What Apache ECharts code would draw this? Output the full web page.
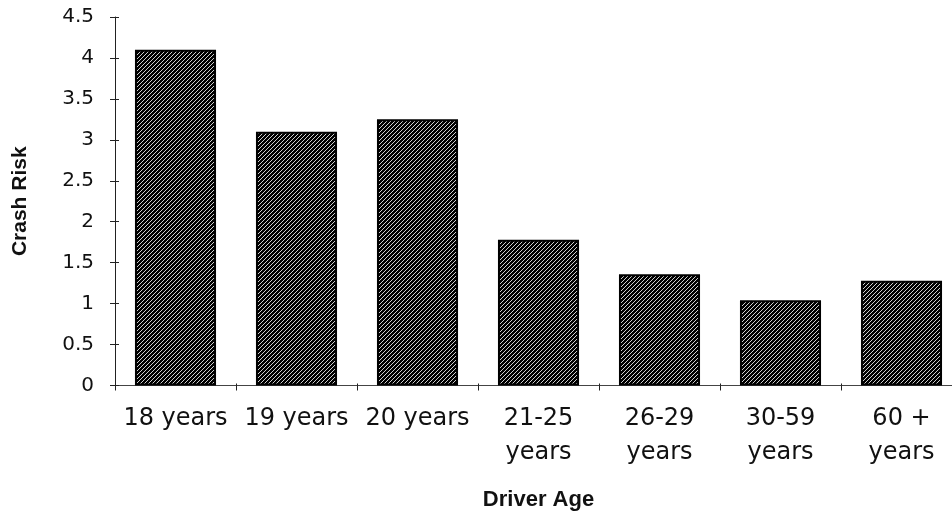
<!DOCTYPE html>
<html>
<head>
<meta charset="utf-8">
<script src="https://cdn.jsdelivr.net/npm/echarts@6/dist/echarts.min.js"></script>
<style>html,body{margin:0;padding:0;background:#fff;overflow:hidden;width:952px;height:521px}#c{width:962px;height:521px}</style>
</head>
<body>
<div id="c"></div>
<script>
const categories = ['18 years', '19 years', '20 years', '21-25\nyears', '26-29\nyears', '30-59\nyears', '60 +\nyears'];
const crashRisk = [4.1, 3.1, 3.25, 1.78, 1.36, 1.04, 1.28];
const yTicks = [0, 0.5, 1, 1.5, 2, 2.5, 3, 3.5, 4, 4.5];

// hatch pattern
const pat = document.createElement('canvas');
pat.width = 4; pat.height = 4;
const pc = pat.getContext('2d');
pc.fillStyle = '#000'; pc.fillRect(0, 0, 4, 4);
pc.fillStyle = '#d0d0d0';
for (let i = 0; i < 4; i++) pc.fillRect(3 - i, i, 1, 1);

const chart = echarts.init(document.getElementById('c'), null, {renderer: 'canvas'});
chart.setOption({
  animation: false,
  backgroundColor: '#fff',
  grid: {left: 115, right: 0, top: 17, bottom: 135.5, containLabel: false},
  xAxis: [{
    type: 'category', data: categories,
    axisLine: {lineStyle: {color: '#444', width: 1}},
    axisTick: {show: true, length: 5, lineStyle: {color: '#222'}},
    axisLabel: {margin: 16, color: '#111', fontFamily: 'DejaVu Sans', fontSize: 24, lineHeight: 34, interval: 0},
    name: 'Driver Age', nameLocation: 'middle', nameGap: 103,
    nameTextStyle: {fontFamily: 'Liberation Sans', fontWeight: 'bold', fontSize: 22, color: '#111'}
  }, {
    type: 'category', data: categories, position: 'bottom',
    axisLine: {show: false}, axisLabel: {show: false},
    axisTick: {show: true, inside: true, length: 2, lineStyle: {color: '#222'}}
  }],
  yAxis: [{
    type: 'value', min: 0, max: 4.5, interval: 0.5,
    axisLine: {show: true, lineStyle: {color: '#222', width: 1}},
    axisTick: {show: true, length: 5, lineStyle: {color: '#222'}},
    splitLine: {show: false},
    axisLabel: {margin: 21, color: '#111', fontFamily: 'DejaVu Sans', fontSize: 20,
      formatter: v => { const t = yTicks.find(x => Math.abs(x - v) < 1e-9); return t === undefined ? '' : String(t); }},
    name: 'Crash Risk', nameLocation: 'middle', nameGap: 84, nameRotate: 90,
    nameTextStyle: {fontFamily: 'Liberation Sans', fontWeight: 'bold', fontSize: 21, color: '#111'}
  }, {
    type: 'value', min: 0, max: 4.5, interval: 0.5, position: 'left',
    axisLine: {show: false}, axisLabel: {show: false}, splitLine: {show: false},
    axisTick: {show: true, inside: true, length: 4, lineStyle: {color: '#222'}}
  }],
  series: [{
    type: 'bar', data: crashRisk, barCategoryGap: '33%',
    itemStyle: {color: {image: pat, repeat: 'repeat'}, borderColor: '#000', borderWidth: 2}
  }]
});
</script>
</body>
</html>
